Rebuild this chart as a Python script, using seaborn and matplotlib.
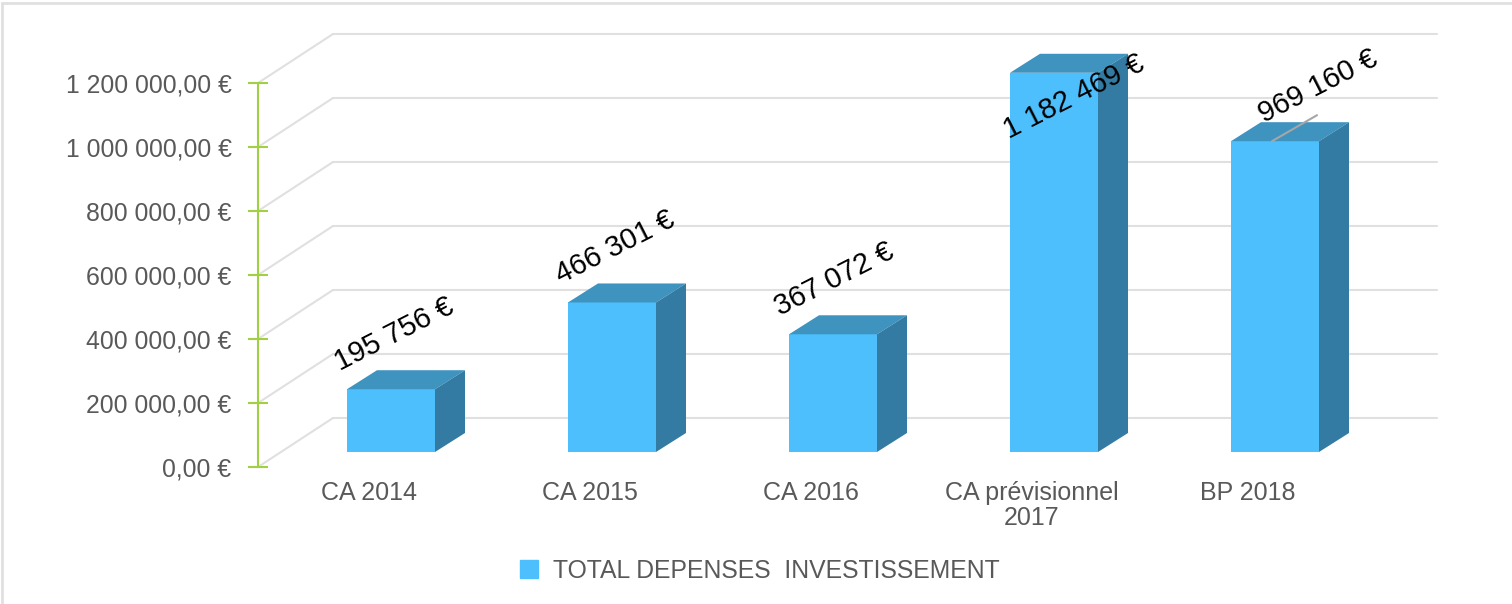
import pandas as pd
import matplotlib
matplotlib.use('Agg')
import matplotlib.pyplot as plt
import seaborn as sns
from matplotlib.lines import Line2D
from matplotlib.patches import ConnectionPatch, Patch

categories = ['CA 2014', 'CA 2015', 'CA 2016', 'CA prévisionnel\n2017', 'BP 2018']
depenses = [195756, 466301, 367072, 1182469, 969160]
value_labels = ['195 756 €', '466 301 €', '367 072 €', '1 182 469 €', '969 160 €']
y_ticks = [0, 200000, 400000, 600000, 800000, 1000000, 1200000]
y_tick_labels = ['0,00 €', '200 000,00 €', '400 000,00 €', '600 000,00 €',
                 '800 000,00 €', '1 000 000,00 €', '1 200 000,00 €']
legend_label = 'TOTAL DEPENSES  INVESTISSEMENT'

W, H = 1512, 604
FRONT = '#4DBFFC'
TOP = '#3E93BF'
SIDE = '#337BA2'
GRID = '#E0E0E0'
GREEN = '#A2D045'
TEXT = '#595959'

sns.set_style('white')
plt.rcParams['font.family'] = ['Liberation Sans', 'DejaVu Sans']


def px_rect(x0, y_top, x1, y_bottom):
    return [x0 / W, 1 - y_bottom / H, (x1 - x0) / W, (y_bottom - y_top) / H]


df = pd.DataFrame({'categorie': categories, 'depenses': depenses})
fig = plt.figure(figsize=(W / 100, H / 100), dpi=100, facecolor='white')

# back wall with the gridlines
ax_back = fig.add_axes(px_rect(333, 34, 1437, 418), zorder=1)
ax_back.set_ylim(0, 1200000)
ax_back.set_xlim(0, 1)
ax_back.set_yticks(y_ticks)
ax_back.set_xticks([])
ax_back.tick_params(left=False, labelleft=False)
ax_back.grid(axis='y', color=GRID, lw=1.5, clip_on=False)
ax_back.patch.set_alpha(0)
sns.despine(ax=ax_back, left=True, bottom=True)

# bars: 221 px between bars, 320.7 px per million
px_x = 221
px_y = 320.7 / 1e6
ax = fig.add_axes(px_rect(0, 0, W, 452), zorder=2)
sns.barplot(data=df, x='categorie', y='depenses', color=FRONT, saturation=1,
            width=88 / px_x, ax=ax, linewidth=0)
ax.set_xlim(-391 / px_x, (W - 391) / px_x)
ax.set_ylim(0, 452 / px_y)
ax.set_xlabel('')
ax.set_ylabel('')
ax.set_xticks([])
ax.set_yticks([])
ax.patch.set_alpha(0)
sns.despine(ax=ax, left=True, bottom=True)

# fake 3d depth
dx = 30 / px_x
dy = 19 / px_y
for bar in ax.containers[0]:
    x0 = bar.get_x()
    x1 = x0 + bar.get_width()
    h = bar.get_height()
    ax.fill([x0, x1, x1 + dx, x0 + dx], [h, h, h + dy, h + dy], color=TOP, lw=0, zorder=3)
    ax.fill([x1, x1 + dx, x1 + dx, x1], [0, dy, h + dy, h], color=SIDE, lw=0, zorder=3)

# value labels, offsets in pixels from the top of each bar
label_dx = [3, 3, 1, 20, 43]
label_dy = [55, 55, 55, -24, 55]
for i, txt in enumerate(value_labels):
    ax.annotate(txt, (i, depenses[i]), xytext=(label_dx[i], label_dy[i]),
                textcoords='offset pixels', rotation=27, rotation_mode='anchor',
                ha='center', va='center', fontsize=21, color='black', zorder=6)
ax.annotate('', (4 - 3 / px_x, depenses[4]), xytext=(45, 26), textcoords='offset pixels',
            arrowprops=dict(arrowstyle='-', color='#A6A6A6', lw=1.5, shrinkA=0, shrinkB=0),
            zorder=5)

# front plane: y axis and category names
ax_front = fig.add_axes(px_rect(258, 83, 1437, 467), zorder=3)
ax_front.patch.set_alpha(0)
ax_front.set_ylim(0, 1200000)
ax_front.set_xlim((258 - 369) / px_x, (1437 - 369) / px_x)
ax_front.set_yticks(y_ticks)
ax_front.set_yticklabels(y_tick_labels)
# the last name sits a little left of its regular slot
ax_front.set_xticks([0, 1, 2, 3, 3.975])
ax_front.set_xticklabels(categories, linespacing=1.05)
ax_front.tick_params(axis='y', direction='inout', length=14, width=1.5, color=GREEN,
                     labelsize=17.8, labelcolor=TEXT, pad=12, left=True)
ax_front.tick_params(axis='x', length=0, labelsize=18, labelcolor=TEXT, pad=10.3)
for s in ['top', 'right', 'bottom']:
    ax_front.spines[s].set_visible(False)
ax_front.spines['left'].set_color(GREEN)
ax_front.spines['left'].set_linewidth(1.5)

# diagonals between the y axis and the back wall
for v in y_ticks:
    fig.add_artist(ConnectionPatch((0, v), (0, v),
                                   coordsA=ax_front.get_yaxis_transform(),
                                   coordsB=ax_back.get_yaxis_transform(),
                                   color=GRID, lw=1.5, zorder=1))

fig.legend(handles=[Patch(color=FRONT, label=legend_label)], loc='center',
           bbox_to_anchor=(760 / W, 1 - 571 / H), frameon=False, fontsize=17.8,
           labelcolor=TEXT, handlelength=0.74, handleheight=0.74, handletextpad=0.62)

# light frame of the original picture
fig.add_artist(Line2D([2 / W, 2 / W], [0, 1 - 3 / H], color=GRID, lw=2))
fig.add_artist(Line2D([2 / W, 1], [1 - 3 / H, 1 - 3 / H], color=GRID, lw=2))

fig.savefig('out.png', dpi=100)
